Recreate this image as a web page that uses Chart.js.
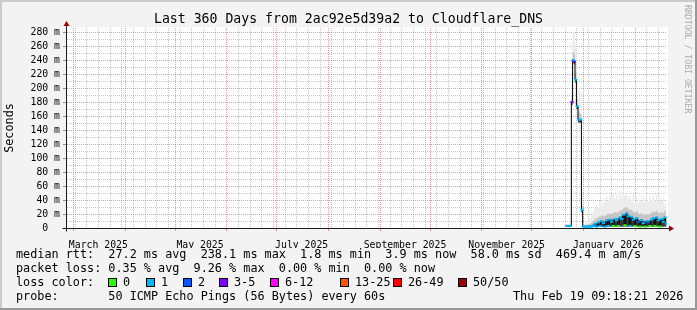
<!DOCTYPE html>
<html>
<head>
<meta charset="utf-8">
<script src="https://cdn.jsdelivr.net/npm/chart.js@4.4.1/dist/chart.umd.min.js"></script>
<style>
  body { margin: 0; background: #f3f3f3; }
  #wrap { position: relative; width: 697px; height: 310px; font-family: 'DejaVu Sans Mono', monospace; color: #000; }
  #wrap canvas { position: absolute; left: 0; top: 0; }
  .txt { position: absolute; white-space: pre; font-size: 11.8px; line-height: 14px; }
  .box { position: absolute; width: 7px; height: 7px; border: 1px solid #000; top: 278px; }
  #title { position: absolute; left: 0; top: 11px; width: 697px; text-align: center; font-size: 13.2px; line-height: 16px; white-space: pre; }
  #mark { position: absolute; left: 683px; top: 5px; writing-mode: vertical-rl; font-size: 8.2px; color: #aaa; white-space: pre; }
</style>
</head>
<body>
<div id="wrap">
  <canvas id="smoke-chart" width="697" height="310"></canvas>
  <div id="title">Last 360 Days from 2ac92e5d39a2 to Cloudflare_DNS</div>
  <div id="mark">RRDTOOL / TOBI OETIKER</div>
  <div class="txt" style="left:16px;top:247px">median rtt:  27.2 ms avg  238.1 ms max  1.8 ms min  3.9 ms now  58.0 ms sd  469.4 m am/s</div>
  <div class="txt" style="left:16px;top:261px">packet loss: 0.35 % avg  9.26 % max  0.00 % min  0.00 % now</div>
  <div class="txt" style="left:16px;top:275px">loss color:</div>
  <div id="lossLegend"></div>
  <div class="txt" style="left:16px;top:289px">probe:       50 ICMP Echo Pings (56 Bytes) every 60s</div>
  <div class="txt" style="left:513px;top:289px">Thu Feb 19 09:18:21 2026</div>
</div>
<script>
// Smokeping style chart, time axis in days since 1 March 2025
// ------------------------------

// axis range and labels
var xMin = -3.8, xMax = 356.2;
var monthStarts = [0, 31, 61, 92, 122, 153, 184, 214, 245, 275, 306, 337];
var labelDays = [15, 76, 137, 199, 260, 321];
var labelNames = ['March 2025', 'May 2025', 'July 2025', 'September 2025', 'November 2025', 'January 2026'];
var yTicks = [0, 10, 20, 30, 40, 50, 60, 70, 80, 90, 100, 110, 120, 130, 140, 150, 160, 170, 180, 190, 200, 210, 220, 230, 240, 250, 260, 270, 280];

// loss legend
var lossNames = ['0', '1', '2', '3-5', '6-12', '13-25', '26-49', '50/50'];
var lossColors = ['#26ff00', '#00b8ff', '#0059ff', '#7e00ff', '#ff00ff', '#ff5500', '#ff0000', '#a10000'];
var lossBoxX = [108, 146, 183, 219, 270, 340, 393, 458];

// data (ms), one entry per sample time
var days = [296.0, 297.2, 298.4, 299.2, 299.9, 300.6, 301.4, 302.3, 303.3, 304.5, 305.2,
  306, 307, 308, 309, 310, 311, 312, 313, 314, 315, 316, 317, 318, 319, 320,
  321, 322, 323, 324, 325, 326, 327, 328, 329, 330, 331, 332, 333, 334, 335,
  336, 337, 338, 339, 340, 341, 342, 343, 344, 345, 346, 347, 348, 349, 350,
  351, 352, 353, 354, 355, 355.9];
var median = [3, 3, 3, 180, 240, 238, 212, 174, 155, 155, 26,
  2, 2, 2, 2, 2, 2, 3, 6, 2, 8, 3, 10, 7, 2, 11,
  3, 12, 9, 3, 13, 11, 3, 15, 13, 19, 4, 21, 17, 3, 16,
  12, 3, 14, 9, 2, 11, 7, 2, 10, 8, 3, 12, 14, 3, 15,
  11, 2, 13, 9, 15, 6];
var loss = [1, 1, 1, 3, 1, 3, 1, 1, 1, 1, 1,
  1, 1, 1, 1, 1, 1, 1, 1, 1, 1, 1, 1, 1, 1, 1,
  1, 1, 1, 0, 1, 1, 0, 1, 1, 1, 0, 1, 1, 1, 1,
  1, 0, 1, 2, 0, 1, 1, 0, 1, 2, 0, 1, 1, 0, 1,
  1, 0, 1, 1, 1, 1];
var smokeMin = [1.8, 1.8, 1.8, 176, 236, 234, 208, 170, 151, 151, 22,
  1.6, 1.6, 1.6, 1.6, 1.6, 1.6, 1.8, 1.8, 1.8, 1.8, 1.8, 1.9, 1.9, 1.8, 2,
  1.9, 2, 2, 1.9, 2, 2, 1.9, 2, 2, 2.2, 2, 2.2, 2.1, 1.9, 2,
  2, 1.9, 2, 1.9, 1.8, 2, 1.9, 1.8, 2, 1.9, 1.8, 2, 2, 1.9, 2,
  2, 1.8, 2, 1.9, 2, 1.8];
var smokeDark = [3, 3, 3, 181, 241, 239, 213, 175, 156, 156, 27,
  3, 3, 3, 3, 3, 4, 5, 7, 7, 9, 9, 11, 10, 9, 12,
  12, 13, 12, 12, 14, 14, 13, 16, 16, 20, 20, 22, 19, 17, 17,
  14, 13, 15, 12, 11, 12, 10, 10, 11, 10, 11, 13, 15, 14, 16,
  13, 12, 14, 12, 16, 7];
var smokeMid = [4, 4, 4, 190, 252, 250, 222, 184, 165, 163, 32,
  4, 4, 5, 5, 6, 8, 10, 13, 14, 16, 16, 18, 18, 17, 20,
  20, 21, 20, 21, 23, 22, 22, 25, 25, 28, 29, 30, 27, 26, 26,
  23, 22, 24, 21, 20, 21, 19, 19, 20, 19, 20, 22, 24, 23, 25,
  22, 21, 23, 21, 25, 11];
var smokeMax = [6, 6, 7, 225, 284, 280, 262, 222, 200, 195, 50,
  5, 6, 8, 10, 14, 18, 24, 28, 34, 30, 38, 32, 42, 36, 44,
  38, 46, 40, 50, 42, 48, 40, 52, 44, 50, 46, 48, 42, 46, 40,
  48, 38, 44, 36, 42, 38, 46, 36, 42, 38, 44, 40, 46, 38, 48,
  36, 42, 38, 44, 34, 20];

// loss color boxes in the legend
var lossLegend = document.getElementById('lossLegend');
lossNames.forEach(function (name, i) {
    var b = document.createElement('div');
    b.className = 'box';
    b.style.left = lossBoxX[i] + 'px';
    b.style.background = lossColors[i];
    lossLegend.appendChild(b);
    var t = document.createElement('div');
    t.className = 'txt';
    t.style.left = (lossBoxX[i] + 15) + 'px';
    t.style.top = '275px';
    t.textContent = name;
    lossLegend.appendChild(t);
});

function pts(values) {
    return days.map(function (d, i) { return { x: d, y: values[i] }; });
}

var gridGray = 'rgba(143,143,143,0.5)';
var gridRed = 'rgba(225,50,50,0.5)';

// background, frame, axes and arrows like rrdtool
var rrdFrame = {
    id: 'rrdFrame',
    beforeDraw: function (chart) {
        var c = chart.ctx, a = chart.chartArea, w = chart.width, h = chart.height;
        c.save();
        c.fillStyle = '#f3f3f3';
        c.fillRect(0, 0, w, h);
        c.fillStyle = '#cbcbcb';
        c.fillRect(0, 0, w, 2);
        c.fillRect(0, 0, 2, h);
        c.fillStyle = '#999999';
        c.fillRect(0, h - 2, w, 2);
        c.fillRect(w - 2, 0, 2, h);
        c.fillStyle = '#ffffff';
        c.fillRect(a.left, a.top - 1, a.right - a.left + 1, a.bottom - a.top + 1);
        c.restore();
    },
    afterDatasetsDraw: function (chart) {
        var c = chart.ctx, a = chart.chartArea;
        var ax = a.left - 0.5, ay = a.bottom + 0.5;
        c.save();
        c.strokeStyle = '#1a1a1a';
        c.lineWidth = 1;
        c.beginPath();
        c.moveTo(ax, ay + 3);
        c.lineTo(ax, a.top - 4);
        c.moveTo(ax - 4, ay);
        c.lineTo(a.right + 3, ay);
        c.stroke();
        c.fillStyle = '#a00000';
        c.beginPath();
        c.moveTo(ax, a.top - 7);
        c.lineTo(ax - 3, a.top - 2);
        c.lineTo(ax + 3, a.top - 2);
        c.closePath();
        c.fill();
        c.beginPath();
        c.moveTo(a.right + 7, ay);
        c.lineTo(a.right + 2, ay - 3);
        c.lineTo(a.right + 2, ay + 3);
        c.closePath();
        c.fill();
        c.restore();
    }
};

var bandStyle = {
    borderWidth: 0,
    borderColor: 'rgba(0,0,0,0)',
    pointRadius: 0,
    stepped: 'middle',
    fill: 4
};

var chartData = {
    datasets: [
        {
            label: 'median',
            data: pts(median),
            borderColor: '#000000',
            borderWidth: 1,
            stepped: 'middle',
            fill: false,
            pointStyle: 'line',
            pointRadius: 1.6,
            pointBorderWidth: 2,
            pointBorderColor: loss.map(function (l) { return lossColors[l]; }),
            pointBackgroundColor: loss.map(function (l) { return lossColors[l]; })
        },
        Object.assign({ label: 'dark', data: pts(smokeDark), backgroundColor: '#3c3c3c' }, bandStyle),
        Object.assign({ label: 'mid', data: pts(smokeMid), backgroundColor: '#c6c6c6' }, bandStyle),
        Object.assign({ label: 'light', data: pts(smokeMax), backgroundColor: '#ececec' }, bandStyle),
        { label: 'min', data: pts(smokeMin), borderWidth: 0, borderColor: 'rgba(0,0,0,0)', pointRadius: 0, stepped: 'middle', fill: false }
    ]
};

var chartOptions = {
    responsive: false,
    animation: false,
    devicePixelRatio: 1,
    events: [],
    layout: { padding: { left: 0, right: 30, top: 28, bottom: 62 } },
    plugins: {
        legend: { display: false },
        tooltip: { enabled: false },
        title: { display: false }
    },
    scales: {
        // weekly minor grid (Sundays)
        x: {
            type: 'linear',
            position: 'bottom',
            min: xMin,
            max: xMax,
            afterBuildTicks: function (s) {
                var t = [];
                for (var d = 1; d < xMax; d += 7) {
                    if (monthStarts.indexOf(d) < 0) t.push({ value: d });
                }
                s.ticks = t;
            },
            afterFit: function (s) { s.height = 0; },
            ticks: { display: false, autoSkip: false },
            grid: { color: gridGray, drawTicks: false, lineWidth: 1 },
            border: { display: false, dash: [1, 1] }
        },
        // monthly major grid
        xm: {
            type: 'linear',
            position: 'bottom',
            min: xMin,
            max: xMax,
            afterBuildTicks: function (s) {
                s.ticks = monthStarts.map(function (v) { return { value: v }; });
            },
            afterFit: function (s) { s.height = 0; },
            ticks: { display: false, autoSkip: false },
            grid: { color: gridRed, tickColor: gridRed, drawTicks: true, tickLength: 3, lineWidth: 1 },
            border: { display: false, dash: [1, 1] }
        },
        xl: {
            type: 'linear',
            position: 'bottom',
            min: xMin,
            max: xMax,
            afterBuildTicks: function (s) {
                s.ticks = labelDays.map(function (v) { return { value: v }; });
            },
            afterFit: function (s) { s.height = 20; },
            ticks: {
                autoSkip: false,
                maxRotation: 0,
                padding: 4,
                color: '#000',
                font: { family: 'DejaVu Sans Mono', size: 9.8 },
                callback: function (v, i) { return labelNames[i]; }
            },
            grid: { display: false },
            border: { display: false }
        },
        y: {
            type: 'linear',
            min: 0,
            max: 286,
            afterBuildTicks: function (s) {
                s.ticks = yTicks.map(function (v) { return { value: v }; });
            },
            afterFit: function (s) { s.width = 67; },
            ticks: {
                autoSkip: false,
                padding: 3,
                color: '#000',
                font: { family: 'DejaVu Sans Mono', size: 9.8 },
                callback: function (v) {
                    if (v % 20 !== 0) return '';
                    // rrdtool keeps the unit column free for the zero label
                    return v === 0 ? '0  ' : v + ' m';
                }
            },
            grid: {
                color: function (c) { return c.tick.value % 20 === 0 ? gridRed : gridGray; },
                tickColor: function (c) { return c.tick.value % 20 === 0 ? '#909090' : 'rgba(0,0,0,0)'; },
                drawTicks: true,
                tickLength: 4,
                lineWidth: 1
            },
            border: { display: false, dash: [1, 1] },
            title: {
                display: true,
                text: 'Seconds',
                color: '#000',
                font: { family: 'DejaVu Sans Mono', size: 11.8 },
                padding: { top: 3, bottom: 0 }
            }
        }
    }
};

var config = {
    type: 'line',
    data: chartData,
    options: chartOptions,
    plugins: [rrdFrame]
};

// Create the chart
var smokeChart = new Chart(document.getElementById('smoke-chart'), config);
</script>
</body>
</html>
